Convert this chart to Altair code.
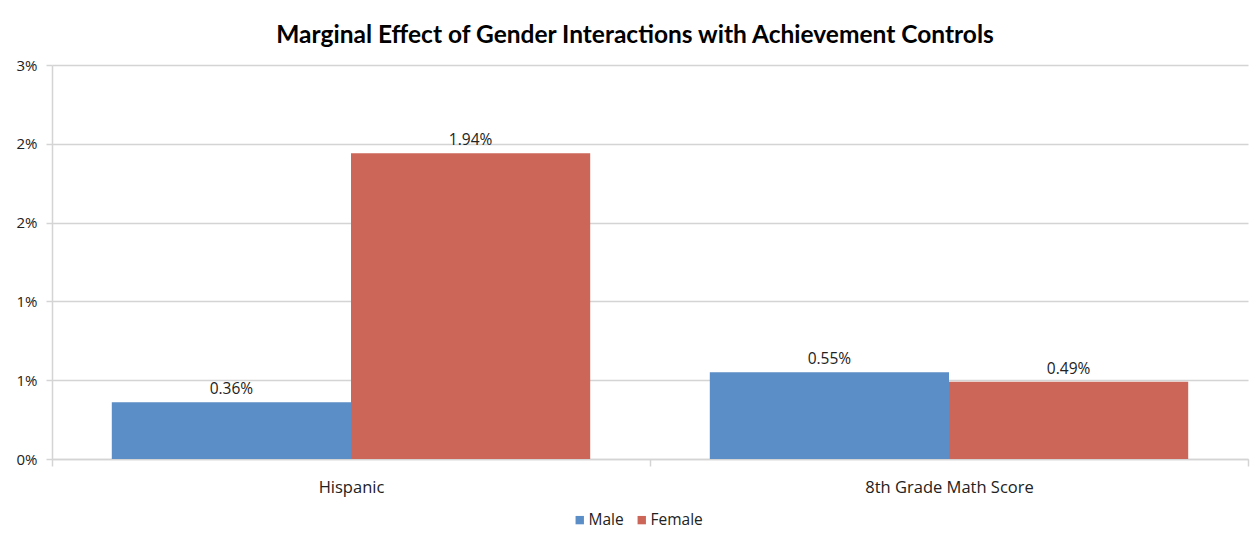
import altair as alt
import pandas as pd

categories = ["Hispanic", "8th Grade Math Score"]
genders = ["Male", "Female"]
male_values = [0.36, 0.55]
female_values = [1.94, 0.49]
y_ticks = [0, 0.5, 1.0, 1.5, 2.0, 2.5]
colors = ["#5B8EC6", "#CB6659"]

rows = []
for i, c in enumerate(categories):
    rows.append({"category": c, "gender": "Male", "value": male_values[i]})
    rows.append({"category": c, "gender": "Female", "value": female_values[i]})
df = pd.DataFrame(rows)

FONT = "Open Sans"
TFONT = "Lato"
GRID = "#d4d4d4"
TXT = "#222222"

x = alt.X("category:N", sort=categories, title=None,
          scale=alt.Scale(paddingInner=0, paddingOuter=0),
          axis=alt.Axis(labelAngle=0, labelFontSize=16.5, labelFont=FONT, labelColor=TXT,
                        labelPadding=13, tickBand="extent", tickSize=7, tickColor=GRID,
                        domainColor=GRID, domainWidth=1.5, tickWidth=1.5))
xo = alt.XOffset("gender:N", sort=genders,
                 scale=alt.Scale(paddingInner=0, paddingOuter=0.25))
y = alt.Y("value:Q", title=None,
          scale=alt.Scale(domain=[0, 2.5], nice=False),
          axis=alt.Axis(values=y_ticks, labelExpr="round(datum.value) + '%'",
                        labelFontSize=15, labelFont=FONT, labelColor=TXT,
                        labelPadding=9, tickSize=6, tickColor=GRID, tickWidth=1.5,
                        gridColor=GRID, gridWidth=1.5, domainColor=GRID, domainWidth=1.5))

bars = alt.Chart(df).mark_bar().encode(
    x=x, xOffset=xo, y=y,
    color=alt.Color("gender:N", sort=genders,
                    scale=alt.Scale(domain=genders, range=colors),
                    legend=alt.Legend(title=None, orient="none", direction="horizontal",
                                      legendX=520, legendY=447, symbolType="square",
                                      symbolSize=70, symbolStrokeWidth=0,
                                      labelFontSize=15.5, labelFont=FONT, labelColor=TXT,
                                      columnPadding=10, symbolOffset=0, labelOffset=1)),
)

labels = alt.Chart(df).transform_calculate(
    label="format(datum.value, '.2f') + '%'"
).mark_text(baseline="bottom", dy=-5, fontSize=15.5, font=FONT, color=TXT).encode(
    x=alt.X("category:N", sort=categories), xOffset=xo, y="value:Q", text="label:N"
)

chart = (bars + labels).properties(
    width=1196, height=394,
    title=alt.TitleParams("Marginal Effect of Gender Interactions with Achievement Controls",
                          fontSize=24.5, font=TFONT, fontWeight="bold", color="#000000",
                          anchor="middle", dx=-15, offset=10),
    autosize=alt.AutoSizeParams(type="none"),
    padding={"left": 44, "top": 57, "right": 4, "bottom": 72},
).configure_view(stroke=None)

chart.save("out.html", embed_options={"renderer": "svg", "actions": False})
